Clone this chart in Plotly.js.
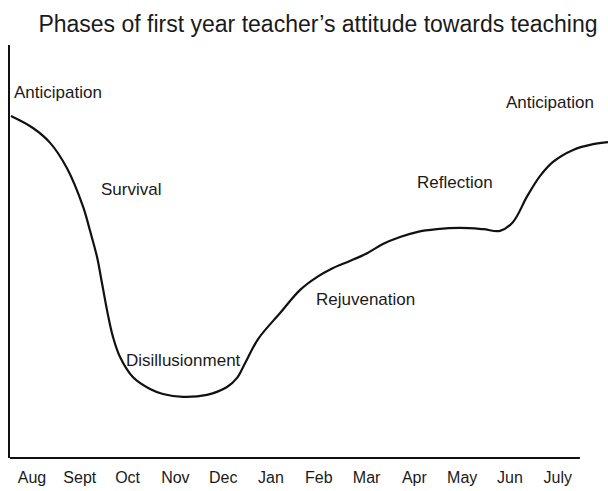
<!DOCTYPE html>
<html>
<head>
<meta charset="utf-8">
<script src="https://cdn.plot.ly/plotly-3.0.1.min.js"></script>
<style>
  html, body { margin: 0; padding: 0; background: #ffffff; }
  #chart { width: 608px; height: 491px; }
</style>
</head>
<body>
<div id="chart"></div>
<script>
// ---- Data ----
var monthLabels = ["Aug", "Sept", "Oct", "Nov", "Dec", "Jan", "Feb", "Mar", "Apr", "May", "Jun", "July"];
var monthIndex = [0, 1, 2, 3, 4, 5, 6, 7, 8, 9, 10, 11];

// Position along the school year (0 = Aug ... 11 = July) and attitude level (0-100)
var curveMonth = [-0.44, 0.02, 0.38, 0.73, 1.07, 1.21, 1.36, 1.46, 1.59, 1.69, 1.84, 2.11, 2.47, 2.74,
                  3.16, 3.66, 4.08, 4.29, 4.46, 4.73, 5.19, 5.61, 5.96, 6.30, 6.65, 7.01, 7.34, 7.70,
                  8.05, 8.47, 8.95, 9.44, 9.79, 10.06, 10.36, 10.63, 10.90, 11.32, 11.74, 12.05];
var curveLevel = [82.8, 79.9, 76.3, 70.2, 60.8, 55.2, 48.7, 42.6, 34.6, 29.5, 24.5, 19.6, 16.7, 15.5,
                  14.8, 15.3, 17.2, 19.4, 23.0, 28.8, 35.1, 40.7, 43.8, 46.0, 47.7, 49.6, 51.8, 53.5,
                  54.7, 55.4, 55.7, 55.4, 55.0, 57.1, 63.4, 68.3, 71.7, 74.6, 76.0, 76.5];

var phaseNames = ["Anticipation", "Survival", "Disillusionment", "Rejuvenation", "Reflection", "Anticipation"];

var titleText = "Phases of first year teacher\u2019s attitude towards teaching";

// ---- Layout helpers (positions of phase labels, in axis units) ----
var phaseX = [0.55, 2.07, 3.16, 6.97, 8.84, 10.84];
var phaseY = [88.4, 65.1, 23.5, 38.5, 66.6, 86.0];

var FONT = "Liberation Sans, Arial, Helvetica, sans-serif";
var TXT = "#1a1a1a";

var trace = {
  x: curveMonth,
  y: curveLevel,
  type: "scatter",
  mode: "lines",
  line: { color: "#111111", width: 2.2, shape: "spline", smoothing: 1 },
  hoverinfo: "skip",
  showlegend: false
};

var annotations = phaseNames.map(function (name, i) {
  return {
    text: name,
    x: phaseX[i], y: phaseY[i],
    xref: "x", yref: "y",
    xanchor: "center", yanchor: "middle",
    showarrow: false,
    font: { family: FONT, size: 17, color: TXT }
  };
});

var layout = {
  width: 608,
  height: 491,
  margin: { l: 10, r: 0, t: 45, b: 33, pad: 0 },
  paper_bgcolor: "#ffffff",
  plot_bgcolor: "#ffffff",
  title: {
    text: titleText,
    font: { family: FONT, size: 23, color: TXT },
    xref: "container", yref: "container",
    x: 0.523, y: 0.951,
    xanchor: "center", yanchor: "middle"
  },
  xaxis: {
    range: [-0.46, 12.05],
    tickmode: "array",
    tickvals: monthIndex,
    ticktext: monthLabels,
    ticks: "",
    ticklabelstandoff: 8,
    showgrid: false,
    zeroline: false,
    showline: false,
    tickfont: { family: FONT, size: 16, color: TXT },
    fixedrange: true
  },
  yaxis: {
    range: [0, 100],
    showticklabels: false,
    ticks: "",
    showgrid: false,
    zeroline: false,
    showline: true,
    linecolor: "#111111",
    linewidth: 2,
    fixedrange: true
  },
  shapes: [{
    type: "line",
    xref: "paper", yref: "paper",
    x0: 0, x1: 0.953, y0: 0, y1: 0,
    line: { color: "#111111", width: 2 }
  }],
  annotations: annotations
};

Plotly.newPlot("chart", [trace], layout, { displayModeBar: false, staticPlot: true });
</script>
</body>
</html>
